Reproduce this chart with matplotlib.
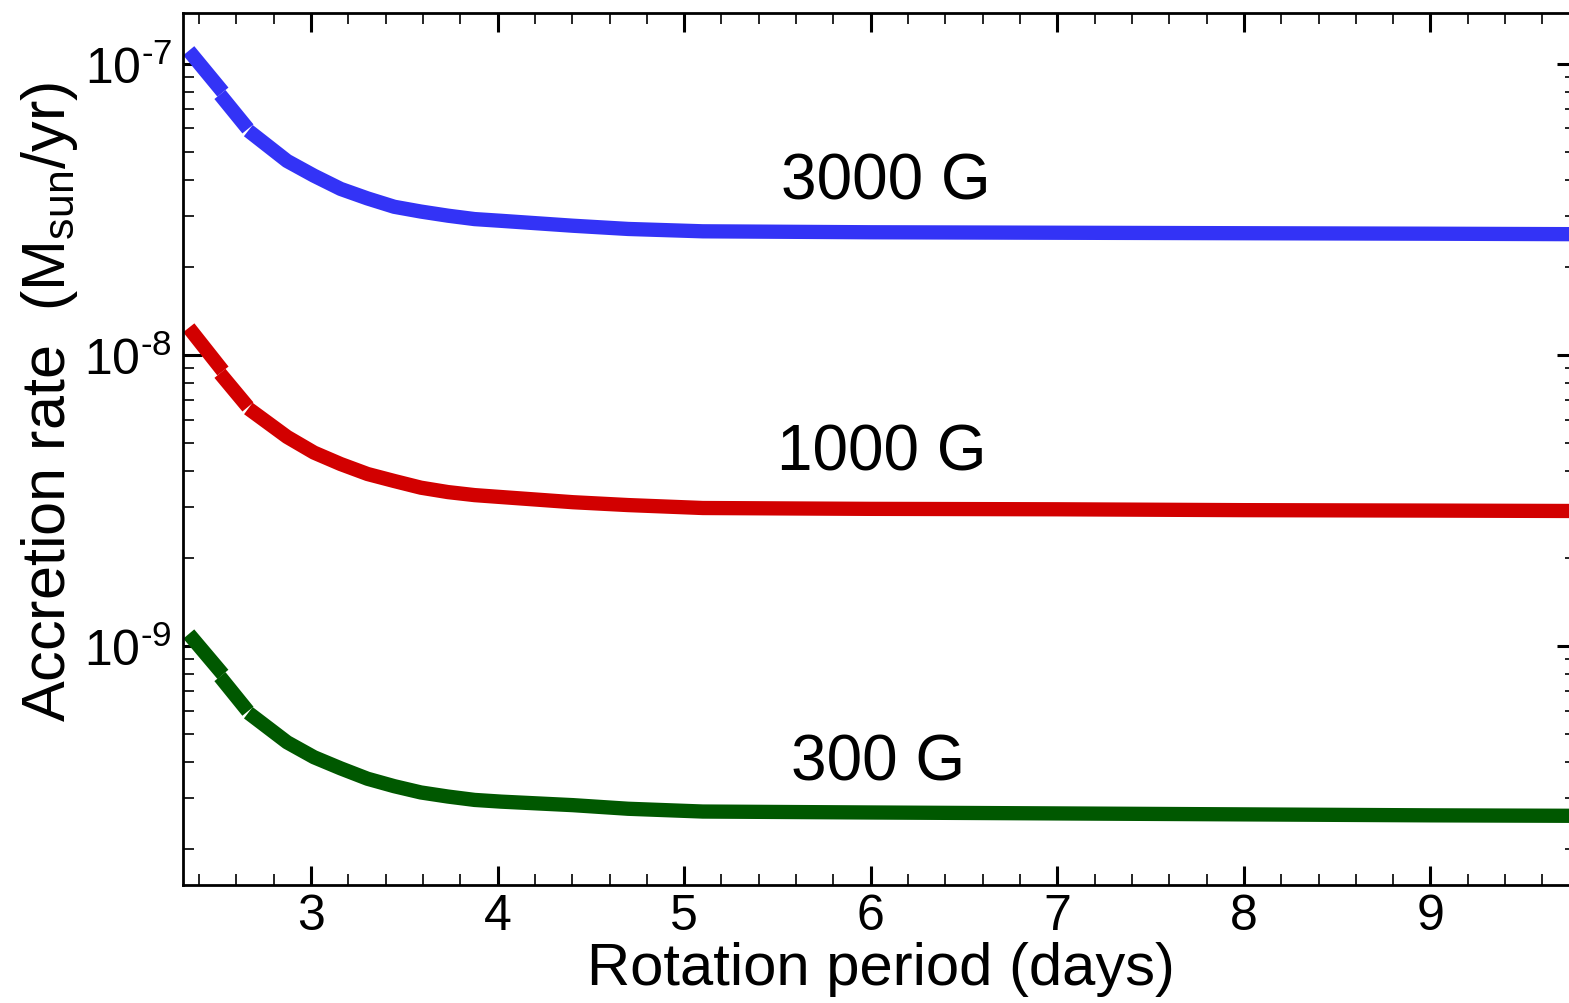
import matplotlib
matplotlib.use("Agg")
import matplotlib.pyplot as plt
from matplotlib.ticker import MultipleLocator, LogLocator, NullFormatter, FixedLocator, FixedFormatter

# ---- data ----
# each curve is drawn as three pieces (the original has small breaks near its start)
period_seg1 = [2.345, 2.528]
period_seg2 = [2.512, 2.662]
period_seg3 = [2.664, 2.872, 3.016, 3.159, 3.303, 3.446, 3.589, 3.734, 3.877, 4.020,
               4.404, 4.70, 5.10, 6.0, 7.0, 8.0, 9.0, 9.80]

rate_3000_seg1 = [1.11e-7, 8.0e-8]
rate_3000_seg2 = [7.85e-8, 5.98e-8]
rate_3000_seg3 = [5.90e-8, 4.64e-8, 4.13e-8, 3.72e-8, 3.45e-8, 3.23e-8, 3.11e-8, 3.01e-8,
                  2.93e-8, 2.89e-8, 2.78e-8, 2.71e-8, 2.66e-8, 2.64e-8, 2.63e-8, 2.62e-8,
                  2.61e-8, 2.60e-8]

rate_1000_seg1 = [1.24e-8, 8.81e-9]
rate_1000_seg2 = [8.65e-9, 6.63e-9]
rate_1000_seg3 = [6.55e-9, 5.23e-9, 4.62e-9, 4.22e-9, 3.90e-9, 3.69e-9, 3.50e-9, 3.38e-9,
                  3.30e-9, 3.25e-9, 3.12e-9, 3.05e-9, 2.98e-9, 2.96e-9, 2.95e-9, 2.93e-9,
                  2.92e-9, 2.91e-9]

rate_300_seg1 = [1.10e-9, 7.99e-10]
rate_300_seg2 = [7.85e-10, 5.97e-10]
rate_300_seg3 = [5.90e-10, 4.67e-10, 4.15e-10, 3.80e-10, 3.50e-10, 3.30e-10, 3.14e-10,
                 3.04e-10, 2.96e-10, 2.92e-10, 2.84e-10, 2.76e-10, 2.70e-10, 2.68e-10,
                 2.66e-10, 2.64e-10, 2.62e-10, 2.61e-10]

series_labels = ["3000 G", "1000 G", "300 G"]
label_x = [6.08, 6.06, 6.04]
label_y = [3.96e-8, 4.63e-9, 3.98e-10]
colors = ["#3333F6", "#D20000", "#005800"]

x_major_ticks = [3, 4, 5, 6, 7, 8, 9]
y_major_ticks = [1e-9, 1e-8, 1e-7]
y_tick_labels = [r"$\mathdefault{10^{\text{-}9}}$", r"$\mathdefault{10^{\text{-}8}}$",
                 r"$\mathdefault{10^{\text{-}7}}$"]

# ---- style ----
plt.rcParams["font.family"] = ["Liberation Sans", "DejaVu Sans"]
plt.rcParams["mathtext.fontset"] = "custom"
plt.rcParams["mathtext.rm"] = "Liberation Sans"
plt.rcParams["mathtext.it"] = "Liberation Sans:italic"
plt.rcParams["mathtext.bf"] = "Liberation Sans:bold"

W, H = 1569, 1004
fig = plt.figure(figsize=(W / 100, H / 100), dpi=100)
ax = fig.add_axes([183 / W, 1 - 886 / H, (1576 - 183) / W, (886 - 14) / H])

segments = [
    (rate_3000_seg1, rate_3000_seg2, rate_3000_seg3),
    (rate_1000_seg1, rate_1000_seg2, rate_1000_seg3),
    (rate_300_seg1, rate_300_seg2, rate_300_seg3),
]
for (s1, s2, s3), c in zip(segments, colors):
    for xs, ys in ((period_seg1, s1), (period_seg2, s2), (period_seg3, s3)):
        ax.plot(xs, ys, color=c, lw=10.3, solid_capstyle="butt", solid_joinstyle="round")

for txt, lx, ly in zip(series_labels, label_x, label_y):
    ax.text(lx, ly, txt, fontsize=46, ha="center", va="center", color="black")

ax.set_yscale("log")
ax.set_xlim(2.314, 9.78)
ax.set_ylim(1.51e-10, 1.496e-7)

ax.xaxis.set_major_locator(FixedLocator(x_major_ticks))
ax.xaxis.set_minor_locator(MultipleLocator(0.2))
ax.yaxis.set_major_locator(FixedLocator(y_major_ticks))
ax.yaxis.set_major_formatter(FixedFormatter(y_tick_labels))
ax.yaxis.set_minor_locator(LogLocator(base=10, subs=range(2, 10), numticks=20))
ax.yaxis.set_minor_formatter(NullFormatter())

ax.tick_params(which="both", direction="in", top=True, right=True)
ax.tick_params(which="major", length=13.5, width=2.2, labelsize=36, pad=6)
ax.tick_params(which="minor", length=8, width=1.2)
ax.tick_params(axis="y", which="major", labelsize=36, pad=8)
for sp in ax.spines.values():
    sp.set_linewidth(2.0)

ax.set_xlabel("Rotation period (days)", fontsize=43)
ax.xaxis.set_label_coords(0.501, -0.064)
ax.set_ylabel(r"Accretion rate  (M$_{\mathrm{sun}}$/yr)", fontsize=44)
ax.yaxis.set_label_coords(-0.074, 0.555)

fig.savefig("out.png", dpi=100)
